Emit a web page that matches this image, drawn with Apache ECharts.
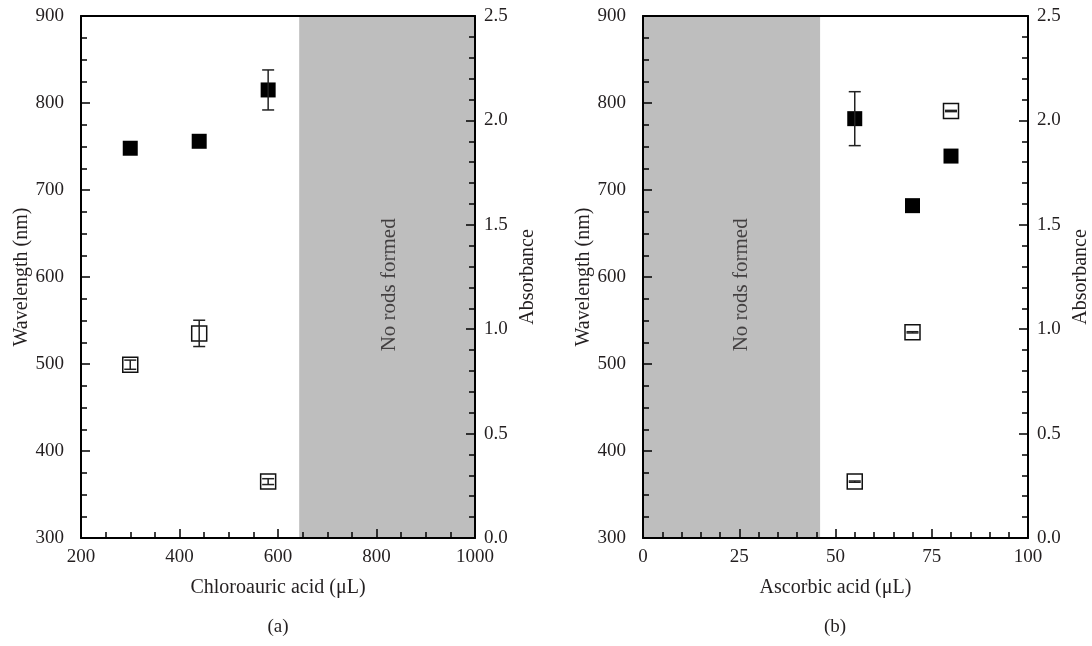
<!DOCTYPE html>
<html>
<head>
<meta charset="utf-8">
<script src="https://cdn.jsdelivr.net/npm/echarts@6/dist/echarts.min.js"></script>
<style>
  html, body { margin: 0; padding: 0; background: #fff; }
  #main { width: 1092px; height: 646px; }
</style>
</head>
<body>
<div id="main"></div>
<script>
// panel (a): chloroauric acid
var chloroX = [300, 440, 580];
var chloroWl = [748, 756, 815];
var chloroWlErr = [0, 0, 23];
var chloroAbs = [0.83, 0.98, 0.27];
var chloroAbsErr = [0.022, 0.063, 0.014];
var noRodsA = [643, 1000];

// panel (b): ascorbic acid
var ascX = [55, 70, 80];
var ascWl = [782, 682, 739];
var ascWlErr = [31, 0, 0];
var ascAbs = [0.27, 0.985, 2.045];
var ascAbsErr = [0.003, 0.003, 0.003];
var noRodsB = [0, 46];

var noteWl = 591;
var noteXA = 827, noteXB = 25.5;

var FONT = '"Liberation Serif", "DejaVu Serif", serif';
var INK = '#231f20';

function pts(xs, ys) {
  var out = [];
  for (var i = 0; i < xs.length; i++) out.push([xs[i], ys[i]]);
  return out;
}
function errPts(xs, ys, es) {
  var out = [];
  for (var i = 0; i < xs.length; i++) {
    if (es[i] > 0) out.push([xs[i], ys[i], es[i]]);
  }
  return out;
}

function errorBars(params, api) {
  var x = api.value(0), y = api.value(1), e = api.value(2);
  var hi = api.coord([x, y + e]);
  var lo = api.coord([x, y - e]);
  var cap = 6;
  var st = { stroke: '#222', lineWidth: 1.5 };
  return {
    type: 'group',
    children: [
      { type: 'line', shape: { x1: hi[0], y1: hi[1], x2: lo[0], y2: lo[1] }, style: st },
      { type: 'line', shape: { x1: hi[0] - cap, y1: hi[1], x2: hi[0] + cap, y2: hi[1] }, style: st },
      { type: 'line', shape: { x1: lo[0] - cap, y1: lo[1], x2: lo[0] + cap, y2: lo[1] }, style: st }
    ]
  };
}

var lineStyle = { color: '#000', width: 2 };
var label = { fontFamily: FONT, fontSize: 19, color: INK };
var nameStyle = { fontFamily: FONT, fontSize: 20, color: INK };

function xAxisBottom(grid, min, max, interval, minorSplit, name) {
  return {
    gridIndex: grid, type: 'value', position: 'bottom', min: min, max: max, interval: interval,
    z: 10,
    name: name, nameLocation: 'middle', nameGap: 40, nameTextStyle: nameStyle,
    axisLine: { show: true, onZero: false, lineStyle: lineStyle },
    axisTick: { show: true, inside: true, length: 9, lineStyle: { color: '#000', width: 1.5 } },
    minorTick: { show: true, splitNumber: minorSplit, length: 6, lineStyle: { color: '#000', width: 1.5 } },
    axisLabel: Object.assign({ margin: 10, formatter: function (v) { return String(v); } }, label),
    splitLine: { show: false }
  };
}
function xAxisTop(grid, min, max) {
  return {
    gridIndex: grid, type: 'value', position: 'top', min: min, max: max, z: 10,
    axisLine: { show: true, onZero: false, lineStyle: lineStyle },
    axisTick: { show: false }, axisLabel: { show: false }, splitLine: { show: false }
  };
}
function yAxisWl(grid) {
  return {
    gridIndex: grid, type: 'value', position: 'left', min: 300, max: 900, interval: 100, z: 10,
    name: 'Wavelength (nm)', nameLocation: 'middle', nameGap: 43, nameTextStyle: nameStyle,
    axisLine: { show: true, onZero: false, lineStyle: lineStyle },
    axisTick: { show: true, inside: true, length: 9, lineStyle: { color: '#000', width: 1.5 } },
    minorTick: { show: true, splitNumber: 4, length: 6, lineStyle: { color: '#000', width: 1.5 } },
    axisLabel: Object.assign({ margin: 17 }, label),
    splitLine: { show: false }
  };
}
function yAxisAbs(grid, gap) {
  return {
    gridIndex: grid, type: 'value', position: 'right', min: 0, max: 2.5, interval: 0.5, z: 10,
    name: 'Absorbance', nameLocation: 'middle', nameGap: gap, nameTextStyle: nameStyle,
    axisLine: { show: true, onZero: false, lineStyle: lineStyle },
    axisTick: { show: true, inside: true, length: 9, lineStyle: { color: '#000', width: 1.5 } },
    minorTick: { show: true, splitNumber: 5, length: 6, lineStyle: { color: '#000', width: 1.5 } },
    axisLabel: Object.assign({ margin: 9, formatter: function (v) { return v.toFixed(1); } }, label),
    splitLine: { show: false }
  };
}

function shade(xi, yi, range) {
  return {
    type: 'line', xAxisIndex: xi, yAxisIndex: yi, data: [], z: 1, silent: true,
    markArea: {
      silent: true,
      itemStyle: { color: '#bebebe' },
      data: [[{ xAxis: range[0] }, { xAxis: range[1] }]]
    }
  };
}
function note(xi, yi, x) {
  return {
    type: 'scatter', xAxisIndex: xi, yAxisIndex: yi, symbolSize: 0, z: 2, silent: true,
    data: [[x, noteWl]],
    label: {
      show: true, position: 'inside', rotate: 90, formatter: 'No rods formed',
      fontFamily: FONT, fontSize: 21, color: INK
    }
  };
}
function filled(xi, yi, data) {
  return {
    type: 'scatter', xAxisIndex: xi, yAxisIndex: yi, symbol: 'rect', symbolSize: 15, z: 3,
    itemStyle: { color: '#000', opacity: 1 }, data: data
  };
}
function open(xi, yi, data) {
  return {
    type: 'scatter', xAxisIndex: xi, yAxisIndex: yi, symbol: 'rect', symbolSize: 15, z: 3,
    itemStyle: { color: 'rgba(255,255,255,0)', borderColor: '#111', borderWidth: 1.5, opacity: 1 },
    data: data
  };
}
function bars(xi, yi, data) {
  return {
    type: 'custom', xAxisIndex: xi, yAxisIndex: yi, z: 4, silent: true,
    renderItem: errorBars, data: data
  };
}

var chart = echarts.init(document.getElementById('main'), null, { renderer: 'canvas' });
var option = {
  backgroundColor: '#fff',
  animation: false,
  grid: [
    { left: 81, top: 16, width: 394, height: 522 },
    { left: 643, top: 16, width: 385, height: 522 }
  ],
  xAxis: [
    xAxisBottom(0, 200, 1000, 200, 4, 'Chloroauric acid (\u03bcL)'),
    xAxisTop(0, 200, 1000),
    xAxisBottom(1, 0, 100, 25, 5, 'Ascorbic acid (\u03bcL)'),
    xAxisTop(1, 0, 100)
  ],
  yAxis: [
    yAxisWl(0),
    yAxisAbs(0, 43),
    yAxisWl(1),
    yAxisAbs(1, 43)
  ],
  graphic: [
    { type: 'text', x: 278, y: 618, style: { text: '(a)', fontFamily: FONT, fontSize: 19, fill: INK, textAlign: 'center' } },
    { type: 'text', x: 835, y: 618, style: { text: '(b)', fontFamily: FONT, fontSize: 19, fill: INK, textAlign: 'center' } }
  ],
  series: [
    shade(0, 0, noRodsA),
    note(0, 0, noteXA),
    open(0, 1, pts(chloroX, chloroAbs)),
    bars(0, 1, errPts(chloroX, chloroAbs, chloroAbsErr)),
    filled(0, 0, pts(chloroX, chloroWl)),
    bars(0, 0, errPts(chloroX, chloroWl, chloroWlErr)),

    shade(2, 2, noRodsB),
    note(2, 2, noteXB),
    open(2, 3, pts(ascX, ascAbs)),
    bars(2, 3, errPts(ascX, ascAbs, ascAbsErr)),
    filled(2, 2, pts(ascX, ascWl)),
    bars(2, 2, errPts(ascX, ascWl, ascWlErr))
  ]
};
chart.setOption(option);
</script>
</body>
</html>
